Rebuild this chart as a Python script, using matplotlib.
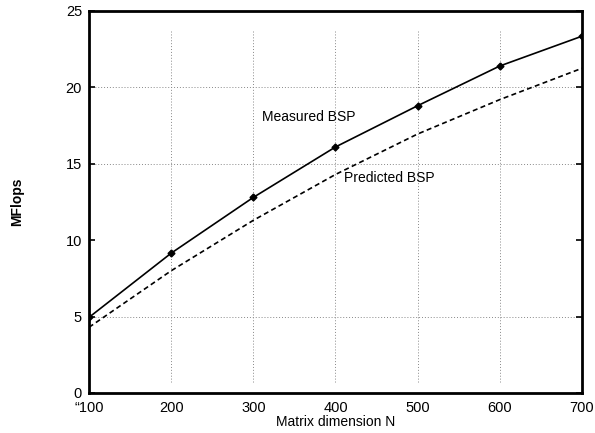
import matplotlib.pyplot as plt

plt.rcParams["font.family"] = ["Liberation Sans", "DejaVu Sans"]

# Matrix sizes and performance (MFlops)
sizes = [100, 200, 300, 400, 500, 600, 700]
measured = [4.95, 9.15, 12.8, 16.1, 18.8, 21.4, 23.35]
predicted = [4.3, 8.0, 11.3, 14.3, 16.95, 19.2, 21.25]

x_ticks = [100, 200, 300, 400, 500, 600, 700]
x_tick_labels = ["\u201c100", "200", "300", "400", "500", "600", "700"]
y_ticks = [0, 5, 10, 15, 20, 25]
x_grid = [200, 300, 400, 500, 600]
y_grid = [5, 15, 20]

W, H = 595, 433
fig = plt.figure(figsize=(W / 100, H / 100), dpi=100)
ax = fig.add_axes([0.1496, 0.0924, 0.8284, 0.8822])

# Dotted grid lines
for gx in x_grid:
    ax.axvline(gx, ymin=0.03, ymax=0.95, color="#888888", lw=0.7,
               ls=(0, (1, 2)), zorder=0)
for gy in y_grid:
    ax.axhline(gy, color="#888888", lw=0.7, ls=(0, (1, 2)), zorder=0)

ax.plot(sizes, measured, color="black", lw=1.2, marker="D", ms=3.5,
        zorder=3)
ax.plot(sizes, predicted, color="black", lw=1.2, ls=(0, (3, 2)),
        zorder=3)

# Curve labels, placed in figure fractions
fig.text(262 / W, 1 - 117 / H, "Measured BSP", fontsize=10,
         va="center", ha="left")
fig.text(344 / W, 1 - 178 / H, "Predicted BSP", fontsize=10,
         va="center", ha="left")

ax.set_xlim(100, 700)
ax.set_ylim(0, 25)
ax.set_xticks(x_ticks)
ax.set_xticklabels(x_tick_labels, fontsize=10.5)
ax.set_yticks(y_ticks)
ax.set_yticklabels([str(v) for v in y_ticks], fontsize=10.5)
ax.tick_params(axis="x", length=0, pad=6)
ax.tick_params(axis="y", direction="in", length=4, width=1.2,
               right=True, pad=5)

for side in ["left", "right", "top", "bottom"]:
    ax.spines[side].set_linewidth(2)

ax.set_xlabel("Matrix dimension N", fontsize=10, labelpad=0)
ax.set_ylabel("MFlops", fontsize=10, fontweight="bold", labelpad=30)

fig.savefig("out.png", dpi=100)
